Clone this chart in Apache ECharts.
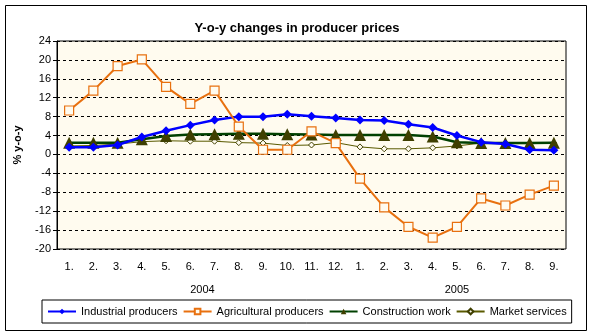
<!DOCTYPE html>
<html><head><meta charset="utf-8">
<script src="https://cdn.jsdelivr.net/npm/echarts@6/dist/echarts.min.js"></script>
<style>html,body{margin:0;padding:0;background:#fff}#c{width:594px;height:336px}</style>
</head><body><div id="c"></div>
<script>
const months = ['1.','2.','3.','4.','5.','6.','7.','8.','9.','10.','11.','12.','1.','2.','3.','4.','5.','6.','7.','8.','9.'];
const years = [{label:'2004', pos:6}, {label:'2005', pos:16.5}];
const industrial = [1.5,1.5,2.0,3.7,5.0,6.2,7.3,8.0,8.0,8.5,8.1,7.7,7.3,7.2,6.4,5.7,4.0,2.6,2.2,1.0,0.9];
const agricultural = [9.3,13.5,18.7,20.1,14.3,10.7,13.5,5.9,1.0,1.0,4.9,2.4,-5.1,-11.2,-15.3,-17.6,-15.3,-9.3,-10.8,-8.5,-6.6];
const construction = [2.5,2.5,2.5,3.2,3.9,4.2,4.3,4.4,4.4,4.3,4.2,4.1,4.1,4.1,4.1,3.8,2.6,2.4,2.4,2.4,2.5];
const market = [1.8,1.9,2.2,2.7,2.9,2.8,2.8,2.5,2.4,1.9,2.0,2.5,1.6,1.2,1.2,1.4,1.8,2.4,2.3,2.3,2.4];
const yTicks = {min:-20, max:24, interval:4};

const chart = echarts.init(document.getElementById('c'), null, {renderer:'canvas'});
const F = 'Liberation Sans, Arial, sans-serif';
chart.setOption({
  animation:false,
  backgroundColor:'#fff',
  textStyle:{fontFamily:F},
  title:{text:'Y-o-y changes in producer prices', left:'center', top:17,
    textStyle:{fontFamily:F, fontSize:13, fontWeight:'bold', color:'#000'}},
  graphic:[{type:'rect', shape:{x:5.5,y:5.5,width:581,height:325}, style:{fill:null, stroke:'#000', lineWidth:1}, silent:true}],
  grid:{left:57, right:28, top:41, bottom:87, show:true, backgroundColor:'#FFFBEF', borderColor:'#000', borderWidth:1},
  xAxis:[{
    type:'category', data:months, boundaryGap:true,
    axisLine:{show:false}, axisTick:{show:false},
    axisLabel:{color:'#000', fontSize:11, fontFamily:F, margin:12, interval:0}
  },{
    type:'value', min:0, max:21, interval:0.5, position:'bottom', offset:27,
    axisLine:{show:false}, axisTick:{show:false}, splitLine:{show:false},
    axisLabel:{color:'#000', fontSize:11, fontFamily:F, showMinLabel:true, showMaxLabel:true,
      formatter:function(v){ for(const y of years){ if(Math.abs(v-y.pos)<1e-6) return y.label; } return ''; }}
  }],
  yAxis:{
    type:'value', min:yTicks.min, max:yTicks.max, interval:yTicks.interval,
    name:'% y-o-y', nameLocation:'middle', nameGap:34, nameRotate:90,
    nameTextStyle:{fontFamily:F, fontSize:11, fontWeight:'bold', color:'#000'},
    axisLine:{show:true, lineStyle:{color:'#000'}}, axisTick:{show:true, length:4, lineStyle:{color:'#000'}},
    axisLabel:{color:'#000', fontSize:11, fontFamily:F, margin:6},
    splitLine:{show:true, lineStyle:{color:'#000', type:[3,3], width:1}}
  },
  legend:{
    bottom:13, left:42, itemGap:5, itemWidth:28, itemHeight:7,
    borderColor:'#000', borderWidth:1, padding:[6,5,6,5],
    textStyle:{fontFamily:F, fontSize:11, color:'#000'},
    data:['Industrial producers','Agricultural producers','Construction work','Market services']
  },
  series:[
    {name:'Industrial producers', type:'line', data:industrial, symbol:'diamond', symbolSize:9,
      lineStyle:{color:'#0000FF', width:2.5}, itemStyle:{color:'#0000FF'}, z:3},
    {name:'Agricultural producers', type:'line', data:agricultural, symbol:'rect', symbolSize:9,
      lineStyle:{color:'#E8700F', width:2}, itemStyle:{color:'#FFFBEF', borderColor:'#E8700F', borderWidth:1.2}, z:4},
    {name:'Construction work', type:'line', data:construction, symbol:'triangle', symbolSize:12,
      lineStyle:{color:'#004000', width:2.5}, itemStyle:{color:'#3F3F00'}, z:2},
    {name:'Market services', type:'line', data:market, symbol:'diamond', symbolSize:6,
      lineStyle:{color:'#5A5A00', width:1}, itemStyle:{color:'#FFFBEF', borderColor:'#3F3F00', borderWidth:1}, z:1}
  ]
});
</script></body></html>
